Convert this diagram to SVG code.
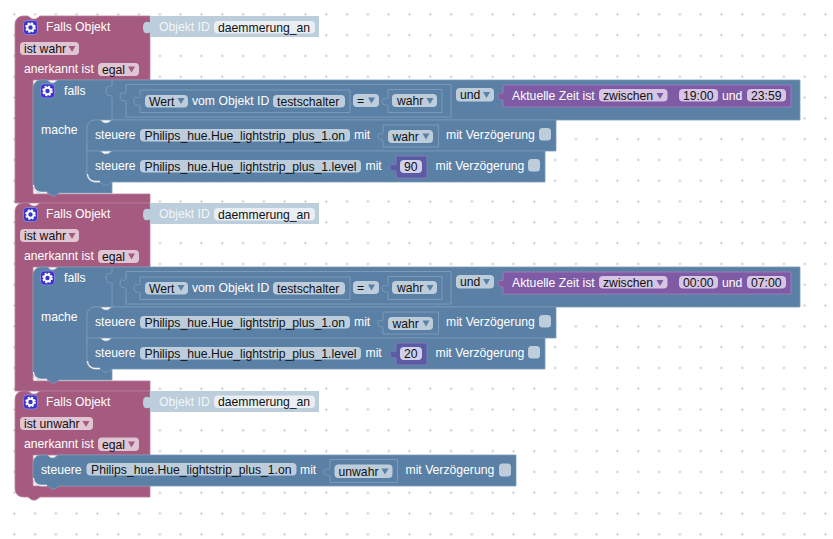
<svg xmlns="http://www.w3.org/2000/svg" xmlns:xlink="http://www.w3.org/1999/xlink" width="833" height="539" viewBox="0 0 833 539">
<style>
text{font-family:"Liberation Sans",Arial,sans-serif;font-size:12.2px}
.l{fill:#fff}
.lg{fill:#f2f6f9}
.d{fill:#111}
.pink{fill:#a55b80;stroke:#b97c9b;stroke-width:.8}
.blue{fill:#5b80a5;stroke:#7c99b7;stroke-width:.8}
.in{fill:#5b80a5;stroke:#7c99b7;stroke-width:1}
.pur{fill:#805ba5;stroke:#9a7cb7;stroke-width:1}
.num{fill:#5b5ba5;stroke:#7c7cb7;stroke-width:1}
.pale{fill:#bccddb}
.fp{fill:#e0c5d3}
.fb{fill:#bdcddc}
.fv{fill:#d6c6e3}
.fw{fill:#e8eef3}
.fn{fill:#d0d0ea}
.ap{fill:#a55b80}
.ab{fill:#5b80a5}
.av{fill:#805ba5}
.hl{fill:none;stroke:#f4eef2;stroke-width:1.3}
</style>
<defs>
<pattern id="grid" x="4" y="4" width="20.8" height="20.8" patternUnits="userSpaceOnUse">
<path d="M9,10.3h2.6M10.3,9v2.6" stroke="#ccc" stroke-width="1" fill="none"/>
</pattern>
<path id="arr" d="M-3.5,-3H3.5L0,3Z"/>
<g id="gear">
<rect x="-7" y="-7" width="14" height="14" rx="3.500" fill="#3a34c8" stroke="#8f8ae0" stroke-width=".8"/>
<circle r="3.200" fill="none" stroke="#fff" stroke-width="2"/>
<circle r="4.500" fill="none" stroke="#fff" stroke-width="1.600" stroke-dasharray="2 1.550"/>
</g>
</defs>
<rect width="833" height="539" fill="#fff"/>
<rect width="833" height="539" fill="url(#grid)"/>

<g id="connectors"/>

<g id="rule1">
<path class="pink" d="M15,24a8,8 0 0 1 8,-8h5l4,3h4l4,-3H150V80H33V194H150V203H15Z"/>
<use xlink:href="#gear" x="30.500" y="27.500"/>
<text class="l" x="46" y="31">Falls Objekt</text>
<rect class="fp" x="20" y="42" width="59" height="13" rx="4"/><text class="d" x="24" y="52.500">ist wahr</text><use xlink:href="#arr" class="ap" x="72" y="49"/>
<text class="l" x="24" y="73">anerkannt ist</text>
<rect class="fp" x="98" y="63" width="41" height="13" rx="4"/><text class="d" x="102" y="73.500">egal</text><use xlink:href="#arr" class="ap" x="131.500" y="69.500"/>
<g id="objekt1">
<path class="pale" d="M150,16H319V37H150V32.500c-5,2 -7,0 -7,-5s2,-7 7,-5Z"/>
<text class="lg" x="159" y="31">Objekt ID</text>
<rect class="fw" x="214" y="21" width="101" height="12.500" rx="4"/><text class="d" x="218" y="31.500">daemmerung_an</text>
</g>
<g id="falls1">
<path class="blue" d="M33,88a8,8 0 0 1 8,-8h6l4,3h3l4,-3H800V120H95a8,8 0 0 0 -8,8V174a8,8 0 0 0 8,8H112V193H59l-4,3h-3l-4,-3H41a8,8 0 0 1 -8,-8Z"/>
<path class="hl" d="M33.500,185a7.500,7.500 0 0 0 7.500,7.500h6"/>
<use xlink:href="#gear" x="47.500" y="91"/>
<text class="l" x="64" y="95">falls</text>
<text class="l" x="41" y="134">mache</text>
<g id="und1">
<path class="in" d="M112,80V85c.5,3 -6,-1.500 -6,6s6.500,3 6,6V120"/>
<path class="in" d="M126,84.500H451V117H126V102c.5,-3 -6,1.500 -6,-6s6.500,2 6,-6Z"/>
<path class="in" d="M140,90H350V112.500H140V106.500c.5,-3 -6,1.500 -6,-6s6.500,2 6,-6Z"/>
<rect class="fb" x="145" y="95" width="43" height="12.500" rx="4"/><text class="d" x="149" y="105.500">Wert</text><use xlink:href="#arr" class="ab" x="181" y="101"/>
<text class="l" x="192" y="105">vom Objekt ID</text>
<rect class="fb" x="273" y="95" width="72" height="12.500" rx="4"/><text class="d" x="277" y="105.500">testschalter</text>
<rect class="fb" x="353" y="94" width="26" height="13" rx="4"/><text class="d" x="357" y="104.500">=</text><use xlink:href="#arr" class="ab" x="371.500" y="100.500"/>
<path class="in" d="M388,89.500H442V112.500H388V106c.5,-3 -6,1.500 -6,-5s6.500,2 6,-5Z"/>
<rect class="fb" x="392" y="94" width="45" height="13" rx="4"/><text class="d" x="397" y="105">wahr</text><use xlink:href="#arr" class="ab" x="430" y="101"/>
<rect class="fb" x="456" y="88" width="38" height="13.500" rx="4"/><text class="d" x="460" y="99">und</text><use xlink:href="#arr" class="ab" x="486.500" y="95"/>
<path class="pur" d="M503,85H791V107H503V101c.5,-3 -5,1.500 -5,-5s5.500,2 5,-5Z"/>
<text class="l" x="512" y="100">Aktuelle Zeit ist</text>
<rect class="fv" x="599" y="89" width="68.500" height="12.500" rx="4"/><text class="d" x="603" y="99.500">zwischen</text><use xlink:href="#arr" class="av" x="660" y="96"/>
<rect class="fv" x="679" y="89" width="39" height="12.500" rx="4"/><text class="d" x="683" y="99.500">19:00</text>
<text class="l" x="722" y="100">und</text>
<rect class="fv" x="747" y="89" width="39" height="12.500" rx="4"/><text class="d" x="751" y="99.500">23:59</text>
</g>
<g id="steuere1a">
<path class="blue" d="M87,128a8,8 0 0 1 8,-8h5l4,3h4l4,-3H556V151H87Z"/>
<text class="l" x="95" y="139">steuere</text>
<rect class="fb" x="140" y="129" width="210" height="12.500" rx="4"/><text class="d" x="144.500" y="139.500">Philips_hue.Hue_lightstrip_plus_1.on</text>
<text class="l" x="354" y="139">mit</text>
<path class="in" d="M383,125H438.500V147H383V141c.5,-3 -5,1.500 -5,-5s5.500,2 5,-5Z"/>
<rect class="fb" x="388" y="130" width="45" height="13" rx="4"/><text class="d" x="392.500" y="140.500">wahr</text><use xlink:href="#arr" class="ab" x="426" y="136.500"/>
<text class="l" x="446" y="139">mit Verzögerung</text>
<rect class="fb" x="539" y="128" width="12" height="12.500" rx="3.500"/>
</g>
<g id="steuere1b">
<path class="blue" d="M87,151h13l4,3h4l4,-3H545V182H112l-4,3h-4l-4,-3H95a8,8 0 0 1 -8,-8Z"/>
<path class="hl" d="M87.500,174a7.500,7.500 0 0 0 7.500,7.500h5"/>
<text class="l" x="95" y="170">steuere</text>
<rect class="fb" x="140" y="160" width="221" height="12.500" rx="4"/><text class="d" x="144.500" y="170.500">Philips_hue.Hue_lightstrip_plus_1.level</text>
<text class="l" x="365.500" y="170">mit</text>
<path class="num" d="M396,156H427V178H396V172c.5,-3 -6,1.500 -6,-5s6.500,2 6,-5Z"/>
<rect class="fn" x="400" y="160" width="22" height="13" rx="4"/><text class="d" x="404" y="171">90</text>
<text class="l" x="435.500" y="170">mit Verzögerung</text>
<rect class="fb" x="528" y="159" width="12" height="12.500" rx="3.500"/>
</g>
</g>
</g>

<g id="rule2" transform="translate(0,187)">
<path class="pink" d="M15,24a8,8 0 0 1 8,-8h5l4,3h4l4,-3H150V80H33V194H150V204H15Z"/>
<use xlink:href="#gear" x="30.500" y="27.500"/>
<text class="l" x="46" y="31">Falls Objekt</text>
<rect class="fp" x="20" y="42" width="59" height="13" rx="4"/><text class="d" x="24" y="52.500">ist wahr</text><use xlink:href="#arr" class="ap" x="72" y="49"/>
<text class="l" x="24" y="73">anerkannt ist</text>
<rect class="fp" x="98" y="63" width="41" height="13" rx="4"/><text class="d" x="102" y="73.500">egal</text><use xlink:href="#arr" class="ap" x="131.500" y="69.500"/>
<g id="objekt2">
<path class="pale" d="M150,16H319V37H150V32.500c-5,2 -7,0 -7,-5s2,-7 7,-5Z"/>
<text class="lg" x="159" y="31">Objekt ID</text>
<rect class="fw" x="214" y="21" width="101" height="12.500" rx="4"/><text class="d" x="218" y="31.500">daemmerung_an</text>
</g>
<g id="falls2">
<path class="blue" d="M33,88a8,8 0 0 1 8,-8h6l4,3h3l4,-3H800V120H95a8,8 0 0 0 -8,8V174a8,8 0 0 0 8,8H112V193H59l-4,3h-3l-4,-3H41a8,8 0 0 1 -8,-8Z"/>
<path class="hl" d="M33.500,185a7.500,7.500 0 0 0 7.500,7.500h6"/>
<use xlink:href="#gear" x="47.500" y="91"/>
<text class="l" x="64" y="95">falls</text>
<text class="l" x="41" y="134">mache</text>
<g id="und2">
<path class="in" d="M112,80V85c.5,3 -6,-1.500 -6,6s6.500,3 6,6V120"/>
<path class="in" d="M126,84.500H451V117H126V102c.5,-3 -6,1.500 -6,-6s6.500,2 6,-6Z"/>
<path class="in" d="M140,90H350V112.500H140V106.500c.5,-3 -6,1.500 -6,-6s6.500,2 6,-6Z"/>
<rect class="fb" x="145" y="95" width="43" height="12.500" rx="4"/><text class="d" x="149" y="105.500">Wert</text><use xlink:href="#arr" class="ab" x="181" y="101"/>
<text class="l" x="192" y="105">vom Objekt ID</text>
<rect class="fb" x="273" y="95" width="72" height="12.500" rx="4"/><text class="d" x="277" y="105.500">testschalter</text>
<rect class="fb" x="353" y="94" width="26" height="13" rx="4"/><text class="d" x="357" y="104.500">=</text><use xlink:href="#arr" class="ab" x="371.500" y="100.500"/>
<path class="in" d="M388,89.500H442V112.500H388V106c.5,-3 -6,1.500 -6,-5s6.500,2 6,-5Z"/>
<rect class="fb" x="392" y="94" width="45" height="13" rx="4"/><text class="d" x="397" y="105">wahr</text><use xlink:href="#arr" class="ab" x="430" y="101"/>
<rect class="fb" x="456" y="88" width="38" height="13.500" rx="4"/><text class="d" x="460" y="99">und</text><use xlink:href="#arr" class="ab" x="486.500" y="95"/>
<path class="pur" d="M503,85H791V107H503V101c.5,-3 -5,1.500 -5,-5s5.500,2 5,-5Z"/>
<text class="l" x="512" y="100">Aktuelle Zeit ist</text>
<rect class="fv" x="599" y="89" width="68.500" height="12.500" rx="4"/><text class="d" x="603" y="99.500">zwischen</text><use xlink:href="#arr" class="av" x="660" y="96"/>
<rect class="fv" x="679" y="89" width="39" height="12.500" rx="4"/><text class="d" x="683" y="99.500">00:00</text>
<text class="l" x="722" y="100">und</text>
<rect class="fv" x="747" y="89" width="39" height="12.500" rx="4"/><text class="d" x="751" y="99.500">07:00</text>
</g>
<g id="steuere2a">
<path class="blue" d="M87,128a8,8 0 0 1 8,-8h5l4,3h4l4,-3H556V151H87Z"/>
<text class="l" x="95" y="139">steuere</text>
<rect class="fb" x="140" y="129" width="210" height="12.500" rx="4"/><text class="d" x="144.500" y="139.500">Philips_hue.Hue_lightstrip_plus_1.on</text>
<text class="l" x="354" y="139">mit</text>
<path class="in" d="M383,125H438.500V147H383V141c.5,-3 -5,1.500 -5,-5s5.500,2 5,-5Z"/>
<rect class="fb" x="388" y="130" width="45" height="13" rx="4"/><text class="d" x="392.500" y="140.500">wahr</text><use xlink:href="#arr" class="ab" x="426" y="136.500"/>
<text class="l" x="446" y="139">mit Verzögerung</text>
<rect class="fb" x="539" y="128" width="12" height="12.500" rx="3.500"/>
</g>
<g id="steuere2b">
<path class="blue" d="M87,151h13l4,3h4l4,-3H545V182H112l-4,3h-4l-4,-3H95a8,8 0 0 1 -8,-8Z"/>
<path class="hl" d="M87.500,174a7.500,7.500 0 0 0 7.500,7.500h5"/>
<text class="l" x="95" y="170">steuere</text>
<rect class="fb" x="140" y="160" width="221" height="12.500" rx="4"/><text class="d" x="144.500" y="170.500">Philips_hue.Hue_lightstrip_plus_1.level</text>
<text class="l" x="365.500" y="170">mit</text>
<path class="num" d="M396,156H427V178H396V172c.5,-3 -6,1.500 -6,-5s6.500,2 6,-5Z"/>
<rect class="fn" x="400" y="160" width="22" height="13" rx="4"/><text class="d" x="404" y="171">20</text>
<text class="l" x="435.500" y="170">mit Verzögerung</text>
<rect class="fb" x="528" y="159" width="12" height="12.500" rx="3.500"/>
</g>
</g>
</g>

<g id="rule3" transform="translate(0,374)">
<path class="pink" d="M15,25a8,8 0 0 1 8,-8h5l4,3h4l4,-3H150V81H33V112H150V123H40l-4,3h-4l-4,-3H23a8,8 0 0 1 -8,-8Z"/>
<use xlink:href="#gear" x="30.500" y="28"/>
<text class="l" x="46" y="31.500">Falls Objekt</text>
<rect class="fp" x="20" y="43" width="73" height="13" rx="4"/><text class="d" x="24" y="53.500">ist unwahr</text><use xlink:href="#arr" class="ap" x="86" y="50"/>
<text class="l" x="24" y="74">anerkannt ist</text>
<rect class="fp" x="98" y="63.500" width="41" height="13.500" rx="4"/><text class="d" x="102" y="74.500">egal</text><use xlink:href="#arr" class="ap" x="131.500" y="70.500"/>
<g id="objekt3">
<path class="pale" d="M150,17H319V38H150V33.500c-5,2 -7,0 -7,-5s2,-7 7,-5Z"/>
<text class="lg" x="159" y="32">Objekt ID</text>
<rect class="fw" x="214" y="21.500" width="101" height="12.500" rx="4"/><text class="d" x="218" y="32">daemmerung_an</text>
</g>
<g id="steuere3">
<path class="blue" d="M33,89a8,8 0 0 1 8,-8h6l4,3h3l4,-3H516V112H59l-4,3h-3l-4,-3H41a8,8 0 0 1 -8,-8Z"/>
<path class="hl" d="M33.500,104a7.500,7.500 0 0 0 7.500,7.500h6"/>
<text class="l" x="41" y="100">steuere</text>
<rect class="fb" x="86.500" y="89" width="210" height="12.500" rx="4"/><text class="d" x="91" y="100">Philips_hue.Hue_lightstrip_plus_1.on</text>
<text class="l" x="300" y="100">mit</text>
<path class="in" d="M330,85.500H397.500V108.500H330V102.500c.5,-3 -6,1.500 -6,-5s6.500,2 6,-5Z"/>
<rect class="fb" x="334.500" y="90.500" width="58" height="13.500" rx="4"/><text class="d" x="338.500" y="101.500">unwahr</text><use xlink:href="#arr" class="ab" x="385" y="97.500"/>
<text class="l" x="405.500" y="100">mit Verzögerung</text>
<rect class="fb" x="499" y="89.500" width="12" height="13" rx="3.500"/>
</g>
</g>
</svg>
